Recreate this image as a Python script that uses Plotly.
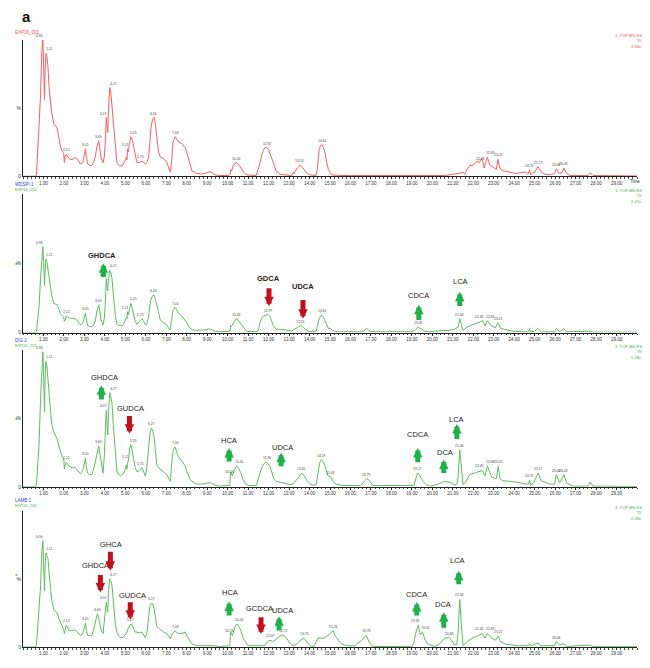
import numpy as np
import plotly.graph_objects as go

# ---------------- data (retention time [min], relative intensity [%]) ----------------
tic_ref = [(0, 0), (0.60, 0), (0.66, 1), (0.72, 20), (0.78, 28), (0.86, 60), (0.92, 92), (0.97, 100), (1.01, 80),
           (1.05, 56), (1.08, 78), (1.12, 90), (1.17, 88), (1.22, 80), (1.27, 66), (1.33, 55), (1.40, 47), (1.51, 38),
           (1.60, 37), (1.67, 35), (1.75, 28), (1.83, 22), (1.92, 18), (1.99, 17), (2.02, 10), (2.07, 15), (2.12, 16),
           (2.25, 13), (2.40, 12), (2.56, 14), (2.68, 12), (2.80, 9), (2.92, 10), (3.00, 16), (3.05, 20), (3.10, 14),
           (3.16, 9), (3.25, 8), (3.37, 8), (3.47, 11), (3.54, 15), (3.62, 22), (3.70, 26), (3.76, 20), (3.81, 14),
           (3.91, 10), (3.97, 14), (4.01, 22), (4.07, 43), (4.10, 38), (4.14, 32), (4.18, 50), (4.23, 65), (4.28, 63),
           (4.35, 51), (4.40, 40), (4.46, 27), (4.52, 17), (4.59, 10), (4.68, 8), (4.76, 7.5), (4.86, 8), (4.95, 10),
           (5.05, 14), (5.08, 12), (5.11, 20), (5.15, 18), (5.21, 25), (5.27, 29), (5.33, 27), (5.40, 22), (5.48, 15),
           (5.57, 10), (5.68, 10), (5.81, 11), (5.90, 10), (5.98, 9), (6.05, 10), (6.14, 14), (6.20, 25), (6.25, 35),
           (6.33, 42), (6.41, 43), (6.47, 38), (6.54, 27), (6.62, 18), (6.71, 14), (6.87, 13), (7.03, 10), (7.12, 6),
           (7.20, 3), (7.27, 12), (7.33, 25), (7.40, 28), (7.44, 29), (7.52, 27), (7.60, 25), (7.76, 24), (7.93, 21),
           (8.01, 17), (8.09, 13), (8.17, 8), (8.25, 4), (8.49, 2), (8.75, 1.5), (8.98, 2.5), (9.07, 3), (9.15, 3.4),
           (9.30, 2), (9.40, 1), (9.60, 0.5), (10.05, 0.5), (10.12, 1.5), (10.15, 5), (10.20, 4), (10.28, 8),
           (10.36, 9.5), (10.45, 10), (10.55, 8.5), (10.69, 5), (10.80, 2.5), (10.93, 1), (11.39, 0.5), (11.45, 3),
           (11.52, 6), (11.58, 10), (11.66, 15), (11.74, 19), (11.82, 21), (11.91, 21), (12.00, 19.5), (12.07, 17),
           (12.15, 13), (12.23, 10), (12.36, 4), (12.46, 2.5), (12.56, 1.5), (12.80, 1), (13.13, 0.5), (13.21, 3),
           (13.25, 2), (13.29, 3.5), (13.40, 6), (13.54, 8), (13.66, 6.5), (13.78, 4), (13.90, 2), (14.02, 1),
           (14.31, 0.5), (14.38, 5), (14.47, 20), (14.55, 22.5), (14.61, 23), (14.68, 21), (14.76, 17), (14.84, 10),
           (14.92, 5), (15.08, 1), (15.40, 0.6), (16.00, 0.5), (17.00, 0.5), (18.00, 0.3), (19.00, 0.3), (20.00, 0.3),
           (20.60, 0.5), (21.02, 1.5), (21.30, 2), (21.50, 3), (21.58, 1.5), (21.70, 5), (21.83, 8), (22.00, 8),
           (22.10, 10), (22.17, 11), (22.30, 10), (22.40, 13), (22.48, 10), (22.53, 6), (22.61, 10), (22.69, 14),
           (22.75, 11), (22.81, 8), (22.93, 7), (23.05, 6), (23.13, 5), (23.21, 12.5), (23.29, 6), (23.45, 4),
           (23.60, 3.5), (23.78, 3), (24.10, 2), (24.43, 3), (24.59, 3), (24.67, 1.5), (24.75, 4.5), (24.80, 1),
           (24.90, 2.5), (25.00, 3), (25.08, 5), (25.16, 7), (25.24, 5), (25.32, 3), (25.50, 1.5), (25.73, 1),
           (25.97, 2), (26.06, 5.5), (26.14, 3.5), (26.22, 2), (26.35, 3), (26.43, 6), (26.54, 2.5), (26.71, 0.5),
           (27.60, 0.5), (27.72, 2.5), (27.85, 0.5), (28.50, 0.3), (29.50, 0.2), (30.00, 0.2)]

tic_wdspi = [(0, 0), (0.60, 0), (0.66, 1), (0.72, 12), (0.78, 18), (0.86, 40), (0.92, 58), (0.97, 62), (1.01, 50),
             (1.05, 34), (1.08, 45), (1.12, 53), (1.17, 51), (1.22, 46), (1.27, 40), (1.33, 33), (1.40, 27),
             (1.51, 21), (1.67, 20), (1.75, 17), (1.83, 13.5), (1.92, 12), (1.99, 11), (2.02, 8), (2.07, 11),
             (2.12, 12), (2.25, 10.5), (2.40, 10), (2.56, 10), (2.68, 8), (2.80, 5.5), (2.92, 6.5), (3.00, 11),
             (3.05, 14), (3.10, 9), (3.16, 5), (3.25, 4.5), (3.37, 4), (3.47, 6), (3.54, 9), (3.62, 16), (3.70, 20),
             (3.76, 15), (3.81, 9), (3.91, 5.5), (3.97, 10), (4.01, 18), (4.07, 39), (4.10, 33), (4.14, 30),
             (4.18, 38), (4.23, 45), (4.28, 44), (4.35, 39), (4.40, 30), (4.46, 20), (4.52, 11), (4.59, 6), (4.68, 5),
             (4.76, 5), (4.86, 5), (4.95, 7), (5.05, 11), (5.08, 10), (5.11, 15), (5.15, 13), (5.21, 18), (5.27, 21),
             (5.33, 18), (5.40, 13), (5.48, 8), (5.57, 6), (5.68, 8), (5.81, 10), (5.90, 8), (5.98, 5.5), (6.05, 6),
             (6.14, 12), (6.20, 20), (6.25, 24), (6.33, 26.5), (6.41, 27), (6.47, 24), (6.54, 19), (6.62, 13),
             (6.71, 9), (6.87, 7), (7.03, 5.5), (7.12, 3), (7.20, 2), (7.27, 10), (7.33, 16), (7.40, 18), (7.44, 18),
             (7.52, 16), (7.60, 14), (7.76, 12), (7.93, 9), (8.01, 7), (8.09, 4.5), (8.17, 3), (8.25, 2), (8.49, 1.5),
             (8.75, 1.5), (8.98, 2), (9.07, 2.5), (9.15, 2.5), (9.30, 1.5), (9.40, 0.8), (9.60, 0.5), (10.05, 0.5),
             (10.12, 1), (10.15, 5), (10.20, 4.5), (10.28, 7), (10.36, 9), (10.45, 10), (10.55, 8), (10.69, 5),
             (10.80, 2.5), (10.93, 0.8), (11.45, 0.5), (11.52, 3), (11.58, 7), (11.66, 10.5), (11.74, 12),
             (11.82, 12.5), (11.97, 13), (12.07, 11.5), (12.15, 8), (12.23, 5), (12.36, 2.5), (12.46, 2.5),
             (12.56, 2.5), (12.80, 2), (13.13, 1), (13.21, 2), (13.40, 3.5), (13.55, 5), (13.66, 4.5), (13.78, 2.5),
             (13.90, 1.5), (14.02, 0.8), (14.31, 0.5), (14.38, 5), (14.47, 10), (14.55, 12), (14.61, 12.5),
             (14.68, 11), (14.76, 8), (14.84, 5), (14.92, 3), (15.00, 3), (15.08, 2), (15.20, 1), (15.40, 0.5),
             (16.60, 0.5), (16.79, 3), (16.95, 1), (17.20, 0.5), (19.00, 0.5), (19.15, 1.5), (19.31, 4), (19.40, 3),
             (19.50, 2.5), (19.60, 1), (19.80, 0.5), (20.53, 1.5), (20.80, 1.5), (21.10, 2.5), (21.26, 4),
             (21.34, 10), (21.42, 5), (21.50, 1.5), (21.70, 4), (21.95, 5.5), (22.20, 7.5), (22.45, 8.5), (22.57, 5),
             (22.69, 8.5), (22.87, 5), (23.08, 3.5), (23.21, 7), (23.33, 3), (23.60, 2), (23.90, 1), (24.40, 0.5),
             (24.70, 0.5), (24.75, 3), (24.80, 0.5), (25.00, 1), (25.16, 3), (25.32, 0.5), (25.97, 0.5), (26.06, 3),
             (26.22, 0.5), (26.43, 3), (26.54, 0.5), (27.72, 1), (27.85, 0.3), (30.00, 0.3)]

tic_dig = [(0, 0), (0.60, 0), (0.66, 2), (0.72, 20), (0.78, 30), (0.86, 65), (0.92, 92), (0.97, 99), (1.01, 80),
           (1.05, 55), (1.08, 80), (1.12, 92), (1.17, 88), (1.22, 80), (1.27, 70), (1.33, 58), (1.40, 46), (1.51, 40),
           (1.67, 35), (1.75, 30), (1.83, 26), (1.92, 22), (1.99, 21), (2.02, 13), (2.07, 17), (2.12, 18), (2.25, 15),
           (2.40, 14), (2.56, 14), (2.68, 12), (2.80, 9.5), (2.92, 12), (3.00, 17), (3.05, 21), (3.10, 14),
           (3.16, 10), (3.25, 9), (3.37, 9), (3.47, 14), (3.54, 19), (3.62, 26), (3.70, 30), (3.76, 24), (3.81, 19),
           (3.91, 10), (3.97, 22), (4.01, 37), (4.07, 56), (4.10, 47), (4.14, 38), (4.18, 55), (4.23, 69), (4.28, 67),
           (4.35, 61), (4.40, 48), (4.46, 36), (4.52, 22), (4.59, 11), (4.68, 9), (4.76, 8), (4.86, 9), (4.95, 11),
           (5.05, 16), (5.08, 13), (5.11, 17.5), (5.15, 19), (5.21, 28), (5.27, 31), (5.33, 27), (5.40, 21),
           (5.48, 14), (5.57, 11), (5.68, 12), (5.81, 14), (5.90, 11), (5.98, 8), (6.05, 14), (6.14, 31), (6.20, 39),
           (6.27, 43), (6.33, 42), (6.41, 36), (6.47, 25), (6.54, 16), (6.62, 14), (6.71, 13), (6.87, 11), (7.03, 9),
           (7.12, 6), (7.20, 4), (7.27, 18), (7.33, 26), (7.40, 29), (7.44, 29), (7.52, 25), (7.60, 22), (7.76, 19),
           (7.93, 15), (8.01, 11), (8.09, 8), (8.17, 5.5), (8.25, 4), (8.49, 2), (8.75, 2), (8.98, 3), (9.07, 3),
           (9.15, 3), (9.30, 2), (9.40, 1), (9.60, 0.5), (10.05, 0.5), (10.10, 1), (10.15, 11), (10.23, 8),
           (10.30, 11), (10.37, 14), (10.45, 15), (10.55, 13), (10.65, 10), (10.75, 5), (10.90, 2), (11.00, 1),
           (11.40, 1), (11.47, 5), (11.58, 10), (11.66, 14), (11.74, 16), (11.82, 17.5), (11.90, 18), (12.00, 16.5),
           (12.07, 15), (12.15, 11), (12.25, 6), (12.36, 4), (12.50, 3.5), (12.80, 3), (13.10, 1.5), (13.25, 3),
           (13.40, 6), (13.62, 10), (13.75, 8), (13.90, 4), (14.05, 2), (14.20, 1), (14.33, 2), (14.40, 10),
           (14.50, 18), (14.59, 20), (14.68, 18), (14.76, 15), (14.90, 8), (15.03, 7.5), (15.15, 4), (15.30, 2),
           (15.60, 1), (16.50, 1), (16.70, 4), (16.79, 6), (16.90, 5), (17.00, 3), (17.10, 1), (19.10, 1),
           (19.20, 6), (19.27, 10), (19.31, 10), (19.38, 8), (19.45, 7), (19.55, 4), (19.70, 1.5), (19.90, 0.5),
           (20.20, 1.5), (20.40, 2.5), (20.61, 4), (20.85, 3.5), (21.08, 1.5), (21.20, 2), (21.26, 7), (21.34, 27),
           (21.42, 16), (21.50, 1.5), (21.65, 4), (21.83, 9), (22.05, 10), (22.30, 11), (22.45, 12), (22.57, 8),
           (22.69, 15.5), (22.80, 11), (22.90, 7), (23.13, 6), (23.22, 15), (23.30, 6), (23.45, 4.5), (23.78, 4),
           (24.10, 3.5), (24.59, 2), (24.70, 2), (24.75, 5), (24.80, 1), (24.95, 3), (25.17, 10), (25.32, 4.5),
           (25.73, 2), (25.97, 2), (26.06, 9), (26.22, 3), (26.35, 6), (26.43, 9), (26.57, 2.5), (26.90, 0.5),
           (27.60, 0.5), (27.72, 3.5), (27.85, 0.5), (30.00, 0.3)]

tic_lamb = [(0, 0), (0.60, 0), (0.66, 2), (0.72, 15), (0.78, 20), (0.86, 45), (0.92, 70), (0.97, 78), (1.01, 60),
            (1.05, 41), (1.08, 60), (1.12, 69), (1.17, 67), (1.22, 65), (1.27, 55), (1.33, 46), (1.40, 35),
            (1.51, 27), (1.67, 25), (1.75, 21), (1.83, 18), (1.92, 15), (1.99, 13), (2.02, 10), (2.07, 14),
            (2.12, 16), (2.25, 12), (2.40, 12), (2.56, 12.5), (2.68, 10.5), (2.80, 8.5), (2.92, 10), (3.00, 15),
            (3.05, 17.5), (3.10, 12), (3.16, 8.5), (3.25, 8.5), (3.37, 8.5), (3.47, 14), (3.54, 18), (3.62, 24),
            (3.66, 24), (3.76, 16), (3.81, 13), (3.91, 10), (3.97, 20), (4.04, 30), (4.07, 33), (4.10, 29),
            (4.14, 25.5), (4.18, 40), (4.23, 50), (4.28, 49), (4.35, 45), (4.40, 36), (4.46, 24), (4.52, 16),
            (4.59, 11), (4.68, 8), (4.76, 7), (4.86, 7), (4.95, 8), (5.05, 10), (5.15, 14), (5.27, 17), (5.33, 16),
            (5.40, 14), (5.48, 11), (5.57, 11), (5.68, 10.5), (5.81, 11), (5.90, 9), (5.98, 7), (6.05, 10),
            (6.14, 25.5), (6.20, 30), (6.27, 32), (6.33, 32), (6.41, 28), (6.47, 22), (6.54, 15), (6.62, 14),
            (6.71, 13), (6.87, 11), (7.03, 10), (7.12, 8), (7.20, 6), (7.30, 10), (7.40, 12), (7.44, 12),
            (7.52, 10.5), (7.60, 10), (7.76, 10), (7.93, 11), (8.01, 8), (8.09, 6), (8.17, 4), (8.25, 2.5),
            (8.49, 1), (8.75, 1), (8.98, 1), (9.07, 1.5), (9.30, 1), (9.60, 0.5), (10.05, 0.5), (10.10, 1),
            (10.15, 11), (10.23, 8.5), (10.30, 12), (10.37, 15.5), (10.45, 17), (10.55, 15), (10.65, 12),
            (10.75, 7), (10.90, 3), (11.00, 1), (11.80, 1), (11.95, 4), (12.07, 5), (12.20, 4), (12.35, 5.5),
            (12.55, 8), (12.72, 9), (12.90, 6), (13.03, 3), (13.20, 1), (13.40, 2.5), (13.55, 5), (13.73, 6.5),
            (13.90, 3), (14.08, 0.5), (14.20, 0.5), (14.30, 3), (14.40, 6.5), (14.70, 6.5), (14.90, 8.5),
            (15.16, 12), (15.25, 8), (15.32, 7), (15.40, 5), (15.55, 2.5), (15.80, 1), (16.20, 1), (16.55, 5),
            (16.76, 8.5), (16.95, 3), (17.10, 0.5), (19.00, 0.5), (19.10, 3), (19.18, 10), (19.31, 16), (19.42, 9),
            (19.52, 11), (19.65, 5), (19.80, 2), (20.10, 0.5), (20.30, 1.5), (20.61, 6.5), (20.80, 7), (20.95, 5),
            (21.08, 1.5), (21.20, 2), (21.26, 11), (21.34, 35), (21.42, 16), (21.50, 1), (21.70, 4), (21.95, 6.5),
            (22.20, 8), (22.45, 10), (22.57, 6.5), (22.69, 10), (22.90, 6.5), (23.08, 5), (23.22, 8), (23.33, 4),
            (23.60, 2), (24.20, 1), (24.70, 1), (24.75, 2.5), (24.80, 1), (25.16, 3), (25.32, 1), (25.97, 1),
            (26.06, 4), (26.22, 1.5), (26.43, 2.5), (26.54, 0.5), (27.72, 1.5), (27.85, 0.3), (30.00, 0.3)]

# retention times printed above peaks
rt_ref = [0.96, 1.11, 2.12, 3.05, 3.69, 4.07, 4.27, 5.11, 5.25, 5.75, 6.40, 7.44, 10.44, 11.92, 13.53, 14.61,
          22.48, 22.69, 23.22, 24.75, 25.17, 26.06, 26.43]
rt_wdspi = [0.96, 1.11, 2.12, 3.05, 3.69, 4.07, 4.27, 5.11, 5.25, 5.75, 6.40, 7.44, 10.44, 11.97, 13.55, 14.61,
            19.31, 21.34, 22.45, 22.69, 23.21]
rt_dig = [0.96, 1.11, 2.12, 3.05, 3.69, 4.07, 4.27, 5.11, 5.25, 5.75, 6.27, 7.44, 10.23, 10.45, 11.90, 13.62, 14.59,
          15.03, 16.79, 19.27, 21.34, 22.45, 22.69, 23.22, 24.75, 25.17, 26.06, 26.43]
rt_lamb = [0.96, 1.11, 2.12, 3.05, 3.66, 4.07, 4.27, 5.27, 6.27, 7.44, 10.23, 10.45, 12.07, 12.72, 13.73, 15.16,
           16.76, 19.31, 19.52, 20.83, 21.34, 22.45, 22.69, 23.22, 26.06]

sample_names = ["EXP16_001", "WDSPI 1", "DIG 2", "LAMB 1"]
file_names = ["", "EXP16_154", "EXP16_155", "EXP16_156"]
max_counts = ["3.54e7", "2.07e7", "1.78e7", "2.08e7"]
x_ticks = list(range(1, 30))

# compound markers: (name, label t, label %, arrow t, tail %, head %, up?, bold)
marks = [
    [],
    [("GHDCA", 3.85, 56, 3.93, 39, 50, True, True),
     ("GDCA", 11.98, 39, 12.02, 33, 19, False, True),
     ("UDCA", 13.68, 33, 13.68, 24.5, 10, False, True),
     ("CDCA", 19.34, 26.6, 19.34, 8, 20, True, False),
     ("LCA", 21.40, 36.7, 21.34, 18, 29.5, True, False)],
    [("GHDCA", 3.98, 80, 3.83, 63, 74.5, True, False),
     ("GUDCA", 5.24, 57.7, 5.20, 53, 39, False, False),
     ("HCA", 10.07, 34.3, 10.07, 17.5, 28.5, True, False),
     ("UDCA", 12.66, 29, 12.61, 14, 25, True, False),
     ("CDCA", 19.29, 38.7, 19.29, 17, 28.5, True, False),
     ("DCA", 20.61, 24.8, 20.56, 9, 20, True, False),
     ("LCA", 21.20, 49, 21.20, 34, 46, True, False)],
    [("GHDCA", 3.54, 60, 3.78, 54, 40, False, False),
     ("GHCA", 4.32, 75, 4.27, 71, 56, False, False),
     ("GUDCA", 5.34, 38, 5.24, 34, 20, False, False),
     ("HCA", 10.12, 40, 10.07, 22, 33.5, True, False),
     ("GCDCA", 11.54, 28.5, 11.63, 23, 9.5, False, False),
     ("UDCA", 12.66, 27, 12.51, 11, 22.6, True, False),
     ("CDCA", 19.24, 38.7, 19.24, 22, 33, True, False),
     ("DCA", 20.51, 31.4, 20.56, 13, 25.5, True, False),
     ("LCA", 21.24, 63.5, 21.29, 45, 56, True, False)],
]

# ---------------- figure ----------------
OFF = 8                      # page body margin of the html page
W, H = 650 - OFF, 668 - OFF  # figure size so that it fills the window
traces = [tic_ref, tic_wdspi, tic_dig, tic_lamb]
rts = [rt_ref, rt_wdspi, rt_dig, rt_lamb]
line_colors = ["#f26161", "#5cbd5c", "#5cbd5c", "#5cbd5c"]
hdr_colors = ["#f05050", "#3cb03c", "#3cb03c", "#3cb03c"]
panel_px = [(40, 177), (195, 334), (352, 489), (513, 650)]  # (top, baseline) in page px
FONT = "Arial, Liberation Sans, sans-serif"


def px(p):
    return (p - OFF) / W


def py(p):
    return 1 - (p - OFF) / H


fig = go.Figure()
annotations = []
for k in range(4):
    n = "" if k == 0 else str(k + 1)
    top, base = panel_px[k]
    pts = np.array(traces[k], dtype=float)
    t, inten = pts[:, 0], pts[:, 1]
    fig.add_trace(go.Scatter(x=t, y=inten, mode="lines", line=dict(color=line_colors[k], width=1),
                             xaxis="x" + n, yaxis="y" + n, showlegend=False, hoverinfo="skip"))
    fig.layout["xaxis" + n] = dict(
        domain=[px(23), px(637)], range=[0, 30], anchor="y" + n,
        showgrid=False, zeroline=False, showline=True, linecolor="#222", linewidth=1,
        tickvals=x_ticks, ticktext=["%.2f" % v for v in x_ticks], ticks="outside", ticklen=2,
        tickcolor="#222", tickwidth=0.6, tickfont=dict(size=4.5, color="#333", family=FONT),
        minor=dict(dtick=0.2, ticks="outside", ticklen=1.5, tickcolor="#444", tickwidth=0.5),
    )
    fig.layout["yaxis" + n] = dict(
        domain=[py(base), py(top)], range=[0, 100], anchor="x" + n,
        showgrid=False, zeroline=False, showline=True, linecolor="#222", linewidth=1,
        tickvals=[0, 50], ticktext=["0", "%"], ticks="", tickfont=dict(size=5, color="#333", family=FONT),
    )
    xr, yr = "x" + n, "y" + n
    # retention-time labels above peaks (neighbouring labels nudged apart)
    rl = rts[k]
    for j, rt in enumerate(rl):
        win = (t >= rt - 0.06) & (t <= rt + 0.06)
        ytop = inten[win].max() if win.any() else np.interp(rt, t, inten)
        shift = 0
        if j + 1 < len(rl) and rl[j + 1] - rt < 0.3:
            shift = -3
        elif j > 0 and rt - rl[j - 1] < 0.3:
            shift = 3
        annotations.append(dict(x=rt, y=ytop, xref=xr, yref=yr, text="%.2f" % rt, showarrow=False,
                                yanchor="bottom", xshift=shift, font=dict(size=3.4, color="#444", family=FONT)))
    # headers
    annotations.append(dict(x=px(13), y=py(33 if k == 0 else (top - 10)), xref="paper", yref="paper",
                            text=sample_names[k], showarrow=False, xanchor="left", yanchor="middle",
                            font=dict(size=4.5, color=hdr_colors[0] if k == 0 else "#3a3ae0", family=FONT)))
    if file_names[k]:
        annotations.append(dict(x=px(13), y=py(top - 5), xref="paper", yref="paper",
                                text=file_names[k], showarrow=False, xanchor="left", yanchor="middle",
                                font=dict(size=4, color=hdr_colors[k], family=FONT)))
    annotations.append(dict(x=px(646), y=py(31 if k == 0 else top - 8), xref="paper", yref="paper",
                            text="1: TOF MS ES-<br>TIC<br>" + max_counts[k], showarrow=False,
                            xanchor="right", yanchor="top", align="right",
                            font=dict(size=4.2, color=hdr_colors[k], family=FONT)))
    if k > 0:
        annotations.append(dict(x=px(13), y=py((top + base) / 2), xref="paper", yref="paper", text="●",
                                showarrow=False, font=dict(size=4, color="#2a9a2a", family=FONT)))
    # compound markers
    for name, lt, lp, at, tail, head, up, bold in marks[k]:
        col = "#1fb04a" if up else "#c0101e"
        annotations.append(dict(x=lt, y=lp, xref=xr, yref=yr, text=("<b>%s</b>" % name) if bold else name,
                                showarrow=False, font=dict(size=7.5, color="#222", family=FONT)))
        annotations.append(dict(x=at, y=head, ax=at, ay=tail, xref=xr, yref=yr, axref=xr, ayref=yr,
                                text="", showarrow=True, arrowhead=2, arrowsize=0.38, arrowwidth=5,
                                arrowcolor=col, standoff=0, startstandoff=0))

annotations.append(dict(x=px(642), y=py(178), xref="paper", yref="paper", text="Time", showarrow=False,
                        font=dict(size=4.5, color="#333", family=FONT)))
annotations.append(dict(x=px(20), y=py(17), xref="paper", yref="paper", text="<b>a</b>", showarrow=False,
                        yanchor="middle", font=dict(size=15, color="#111", family=FONT)))

fig.update_layout(width=W, height=H, margin=dict(l=0, r=0, t=0, b=0), paper_bgcolor="white",
                  plot_bgcolor="white", annotations=annotations, showlegend=False)
fig.write_html("out.html")
